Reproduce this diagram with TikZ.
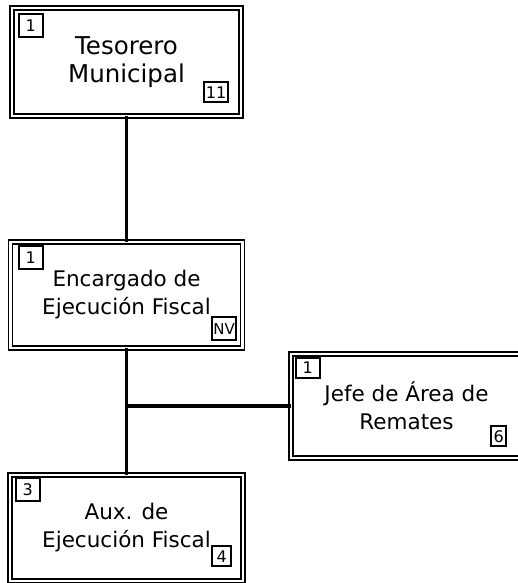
\documentclass[tikz,border=0pt]{standalone}
\usepackage{fontspec}
\setmainfont{DejaVu Sans}
\usepackage{tikz}
\usetikzlibrary{arrows}
\usetikzlibrary{calc}
\usetikzlibrary{positioning}
\begin{document}
\begin{tikzpicture}[x=1pt,y=-1pt,line cap=butt]
		\tikzstyle{puesto}=[rectangle,draw,double,double distance=2.2pt,line width=1.5pt,
			outer sep=0pt,align=center,font=\fontsize{21.5}{28}\selectfont,node distance=233pt];
		\tikzstyle{cuadro}=[rectangle,draw,fill=white,line width=1.6pt,inner sep=2pt,
			minimum width=19pt,minimum height=20pt,font=\fontsize{16}{18}\selectfont];
		\tikzstyle{cuadrosup}=[cuadro,minimum width=24pt,minimum height=23pt];
		\tikzstyle{enlace}=[-,line width=3.8pt];
		\useasboundingbox(0,0)rectangle(517,583);

		\node[puesto,minimum width=229pt,minimum height=108pt,font=\fontsize{24.5}{28}\selectfont](tes)at(126.5,62){Tesorero\\Municipal};
		\node[puesto,minimum width=232pt,minimum height=106pt,below of=tes](enc){Encargado de\\Ejecución Fiscal};
		\node[puesto,minimum width=233pt,minimum height=106pt,below of=enc](aux){Aux. de\\Ejecución Fiscal};
		\node[puesto,minimum width=231pt,minimum height=104pt](jef)at($(enc)+(280,111)$){Jefe de Área de\\Remates};

		\node[cuadrosup,anchor=north west](tes1)at([xshift=6pt,yshift=-5pt]tes.north west){1};
		\node[cuadro,anchor=south east](tes2)at([xshift=-12pt,yshift=13pt]tes.south east){11};
		\node[cuadrosup,anchor=north west](enc1)at([xshift=7.5pt,yshift=-3pt]enc.north west){1};
		\node[cuadrosup,inner xsep=0.5pt,font=\fontsize{15}{18}\selectfont,anchor=south east](enc2)at([xshift=-5.5pt,yshift=7pt]enc.south east){NV};
		\node[cuadrosup,minimum height=20pt,anchor=north west](jef1)at([xshift=4pt,yshift=-3pt]jef.north west){1};
		\node[cuadro,minimum width=15pt,anchor=south east](jef2)at([xshift=-15pt,yshift=11pt]jef.south east){6};
		\node[cuadrosup,anchor=north west](aux1)at([xshift=5pt,yshift=-2pt]aux.north west){3};
		\node[cuadro,anchor=south east](aux2)at([xshift=-11pt,yshift=14pt]aux.south east){4};

		\coordinate(rama)at(enc.south|-jef.west);
		\draw[enlace](tes)--(enc);
		\draw[enlace](enc)--(aux);
		\draw[enlace](rama)--(jef);
	\end{tikzpicture}
\end{document}
